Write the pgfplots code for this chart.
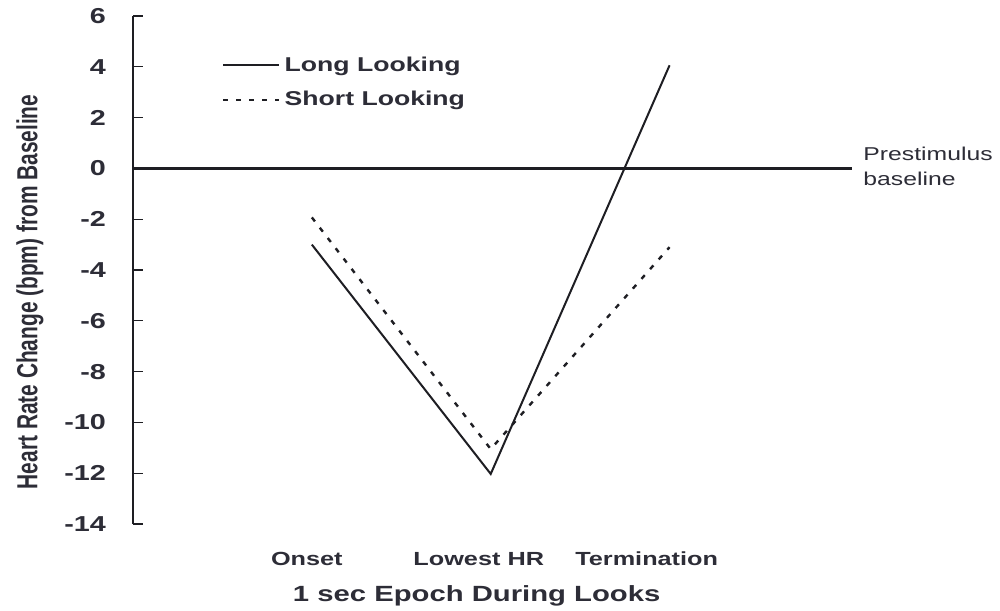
\documentclass[border=0pt]{standalone}
\usepackage{fontspec}
\setmainfont{Liberation Sans}[FakeStretch=1.33]
\newfontfamily\ylabfont{Liberation Sans}[FakeStretch=0.72]
\usepackage{pgfplots}
\pgfplotsset{compat=1.18}
\definecolor{txt}{RGB}{45,45,55}
\definecolor{ln}{RGB}{30,30,35}
\begin{document}
\begin{tikzpicture}
\begin{axis}[
  scale only axis,
  width=359.5pt, height=254pt,
  xmin=-1, xmax=3.02,
  ymin=-14, ymax=6,
  axis y line*=left,
  axis x line*=bottom,
  x axis line style={draw=none},
  y axis line style={color=ln, line width=0.7pt},
  ytick={-14,-12,...,6},
  tick align=inside,
  major tick length=5pt,
  ytick style={color=ln, line width=0.6pt},
  xtick style={draw=none},
  xtick={-0.028,0.933,1.872},
  xticklabels={Onset,Lowest HR,Termination},
  xticklabel style={anchor=base, yshift=-20.5pt, font=\bfseries\fontsize{9.5}{11}\selectfont, text=txt},
  yticklabel style={anchor=east, xshift=-10pt, font=\bfseries\fontsize{10.8}{12}\selectfont, text=txt},
  /pgf/number format/assume math mode=true,
  xlabel={1 sec Epoch During Looks},
  xlabel style={at={(axis description cs:0.478,0)}, anchor=base, yshift=-38.5pt, font=\bfseries\fontsize{11}{13}\selectfont, text=txt},
  ylabel={Heart Rate Change (bpm) from Baseline},
  ylabel style={at={(axis description cs:-0.1433,0.457)}, anchor=center, rotate=0, font=\ylabfont\bfseries\fontsize{14.5}{16}\selectfont, text=txt},
  clip=false,
  legend style={draw=none, fill=none, at={(axis cs:-0.503,4.14)}, anchor=north west, yshift=5.5pt,
    font=\bfseries\fontsize{10}{12}\selectfont, text=txt, row sep=4.5pt, column sep=0pt, inner sep=0pt},
  legend cell align=left,
  legend image code/.code={\draw[#1] (0pt,0pt) -- (28pt,0pt);},
]
\addplot[ln, line width=1pt] coordinates {(0,-3) (1,-12.03) (2,4.06)};
\addlegendentry{Long Looking}
\addplot[ln, line width=1.2pt, dash pattern=on 2.5pt off 4pt] coordinates {(0,-1.93) (1,-11.05) (2,-3.1)};
\addlegendentry{Short Looking}
\addplot[ln, line width=1.5pt, forget plot] coordinates {(-1.005,0) (3.02,0)};
\node[anchor=base west, inner sep=0pt, font=\fontsize{9.3}{11}\selectfont, text=txt] at (axis cs:3.02,0.316) [xshift=5.5pt] {Prestimulus};
\node[anchor=base west, inner sep=0pt, font=\fontsize{9.3}{11}\selectfont, text=txt] at (axis cs:3.02,-0.67) [xshift=5.5pt] {baseline};
\end{axis}
\pgfresetboundingbox
\path[use as bounding box] (-66.5pt,-43pt) rectangle (433.5pt,262pt);
\end{tikzpicture}
\end{document}
